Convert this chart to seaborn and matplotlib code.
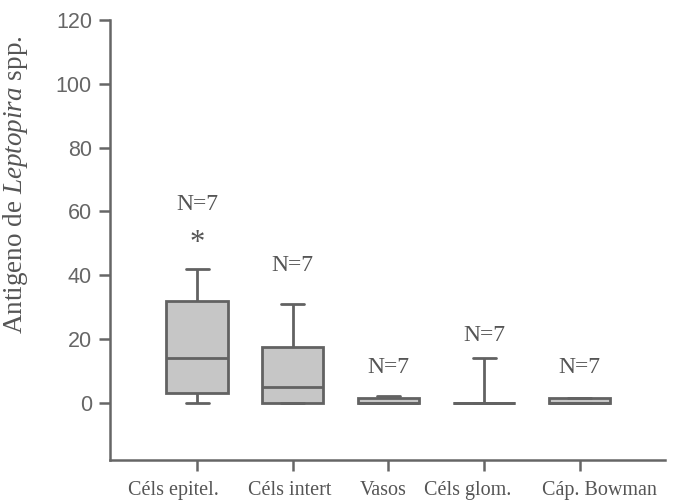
import matplotlib
matplotlib.use("Agg")
import matplotlib.pyplot as plt
import matplotlib.transforms as mtransforms
import seaborn as sns
import pandas as pd

categories = ["Céls epitel.", "Céls intert", "Vasos", "Céls glom.", "Cáp. Bowman"]
# seven observations per group (N=7), read from the box summaries
cels_epitel = [0, 2, 4, 14, 28, 36, 42]
cels_intert = [0, 0, 0, 5, 15, 20, 31]
vasos = [0, 0, 0, 0, 1, 2, 2]
cels_glom = [0, 0, 0, 0, 0, 0, 14]
cap_bowman = [0, 0, 0, 0, 1.5, 1.5, 1.5]
n_labels = ["N=7"] * 5
n_label_y = [62, 43, 11, 21, 11]
star_y = 50
yticks = [0, 20, 40, 60, 80, 100, 120]

series = [cels_epitel, cels_intert, vasos, cels_glom, cap_bowman]
df = pd.DataFrame({
    "grupo": [c for c, s in zip(categories, series) for _ in s],
    "valor": [v for s in series for v in s],
})

sns.set_style("ticks")
plt.rcParams["mathtext.fontset"] = "custom"
plt.rcParams["mathtext.rm"] = "Liberation Serif"
plt.rcParams["mathtext.it"] = "Liberation Serif:italic"

gray = "#666666"
txt = "#555555"

fig = plt.figure(figsize=(6.75, 5), dpi=100)
ax = fig.add_axes([0.163, 0.08, 0.822, 0.88])

sns.boxplot(data=df, x="grupo", y="valor", order=categories, ax=ax,
            whis=(0, 100), width=0.64, color="#c6c6c6", linecolor="#626262",
            linewidth=2.0, saturation=1, capwidths=0.24, fliersize=0)

ax.set_ylim(-18, 120)
ax.set_xlim(-0.91, 4.89)
ax.set_yticks(yticks)
ax.set_xlabel("")
ax.set_ylabel(r"Antigeno de $\mathit{Leptopira}$ spp.", fontsize=19.5,
              family="Liberation Serif", color=txt)
ax.yaxis.set_label_coords(-0.145, 0.625)

sns.despine(ax=ax)
for sp in ["left", "bottom"]:
    ax.spines[sp].set_color(gray)
    ax.spines[sp].set_linewidth(1.8)

ax.tick_params(axis="y", length=8, width=1.8, color=gray, labelcolor=gray,
               labelsize=15.5, pad=5)
ax.tick_params(axis="x", length=8, width=1.8, color=gray, labelcolor=txt,
               labelsize=14.5, pad=7)
for lab in ax.get_yticklabels():
    lab.set_family("Liberation Sans")
# the original's category labels sit slightly off their ticks
label_shift_px = [-24, -3, -5, -16, 20]
for lab, dx in zip(ax.get_xticklabels(), label_shift_px):
    lab.set_family("Liberation Serif")
    lab.set_transform(lab.get_transform() +
                      mtransforms.ScaledTranslation(dx / 100, 0, fig.dpi_scale_trans))

for i, (lbl, yy) in enumerate(zip(n_labels, n_label_y)):
    ax.text(i, yy, lbl, ha="center", va="center", fontsize=17,
            family="Liberation Serif", color=txt)
ax.text(0, star_y, "*", ha="center", va="center", fontsize=22,
        family="Liberation Serif", color=txt)

fig.savefig("out.png", dpi=100)
